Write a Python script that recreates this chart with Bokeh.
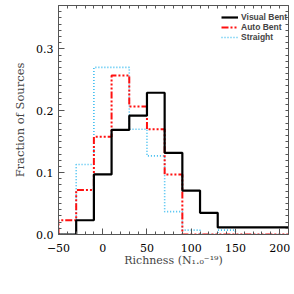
import numpy as np
from bokeh.plotting import figure
from bokeh.models import (Range1d, FixedTicker, LinearAxis, Legend, LegendItem,
                          PrintfTickFormatter)
from bokeh.embed import file_html
from bokeh.resources import INLINE

# bin edges (Richness) and fractions per bin
edges = [-50, -30, -10, 10, 30, 50, 70, 90, 110, 130, 150, 170, 190, 210]
visual_bent = [0.0, 0.023, 0.097, 0.169, 0.192, 0.229, 0.132, 0.071, 0.035,
               0.0115, 0.0115, 0.0115, 0.0115]
auto_bent = [0.023, 0.072, 0.158, 0.257, 0.207, 0.170, 0.097, 0.0, 0.0,
             0.0, 0.0, 0.0, 0.0]
straight = [0.0, 0.113, 0.270, 0.270, 0.170, 0.127, 0.037, 0.007, 0.0,
            0.007, 0.0, 0.0, 0.0]

x_ticks = [-50, 0, 50, 100, 150, 200]
y_ticks = [0.0, 0.1, 0.2, 0.3]

SERIF = "DejaVu Serif"
AXIS_COL = "#555555"

p = figure(width=294, height=294, output_backend="svg", toolbar_location=None,
           x_range=Range1d(-50, 210), y_range=Range1d(0, 0.37),
           min_border_left=58, min_border_right=6, min_border_top=5,
           min_border_bottom=60)
p.xgrid.visible = False
p.ygrid.visible = False
p.outline_line_color = None
p.background_fill_color = "white"


def step_xy(vals):
    xs = [edges[0]] + list(edges)
    ys = [0.0] + list(vals) + [vals[-1]]
    return xs, ys


xs, ys = step_xy(straight)
r_s = p.step(xs, ys, mode="after", line_color="#3cbcf0", line_width=1.6,
             line_dash="1 2")
xs, ys = step_xy(auto_bent)
r_a = p.step(xs, ys, mode="after", line_color="#ff1010", line_width=2,
             line_dash="7 2 2 2 2 2 2 2")
xs, ys = step_xy(visual_bent)
r_v = p.step(xs, ys, mode="after", line_color="black", line_width=2.2)

xminor = list(range(-50, 211, 10))
yminor = [round(v, 2) for v in np.arange(0, 0.371, 0.01)]


def style_axis(ax, ticks, minor):
    ax.ticker = FixedTicker(ticks=ticks, minor_ticks=minor)
    ax.axis_line_color = AXIS_COL
    ax.axis_line_width = 1
    ax.major_tick_line_color = AXIS_COL
    ax.minor_tick_line_color = AXIS_COL
    ax.major_tick_in = 6
    ax.major_tick_out = 0
    ax.minor_tick_in = 3
    ax.minor_tick_out = 0
    ax.major_label_text_font = SERIF
    ax.major_label_text_font_size = "11px"
    ax.major_label_text_color = "black"


xa = p.xaxis[0]
style_axis(xa, x_ticks, xminor)
xa.major_label_overrides = {-50: "\u221250"}
xa.major_label_standoff = 9
xa.axis_label = "Richness (N\u2081.\u2080\u207b\u00b9\u2079)"
xa.axis_label_text_font = SERIF
xa.axis_label_text_font_size = "11px"
xa.axis_label_text_font_style = "normal"
xa.axis_label_standoff = -1

ya = p.yaxis[0]
style_axis(ya, y_ticks, yminor)
ya.formatter = PrintfTickFormatter(format="%.1f")
ya.major_label_standoff = 5
ya.axis_label = "Fraction of Sources"
ya.axis_label_text_font = SERIF
ya.axis_label_text_font_size = "11.5px"
ya.axis_label_text_font_style = "normal"
ya.axis_label_standoff = 6

# box ticks on top and right (tick marks only, no labels)
top = LinearAxis()
style_axis(top, [], xminor)
p.add_layout(top, "above")
right = LinearAxis()
style_axis(right, [], yminor)
p.add_layout(right, "right")

legend = Legend(items=[LegendItem(label="Visual Bent", renderers=[r_v]),
                       LegendItem(label="Auto Bent", renderers=[r_a]),
                       LegendItem(label="Straight", renderers=[r_s])],
                location=(162, 191))
legend.label_text_font = "Liberation Sans"
legend.label_text_font_style = "bold"
legend.label_text_font_size = "8.5px"
legend.glyph_width = 17
legend.glyph_height = 8
legend.label_height = 8
legend.spacing = -2
legend.padding = 1
legend.margin = 0
legend.label_standoff = 3
legend.background_fill_alpha = 0
legend.border_line_alpha = 0
p.add_layout(legend)

open("out.html", "w").write(file_html(p, INLINE))
